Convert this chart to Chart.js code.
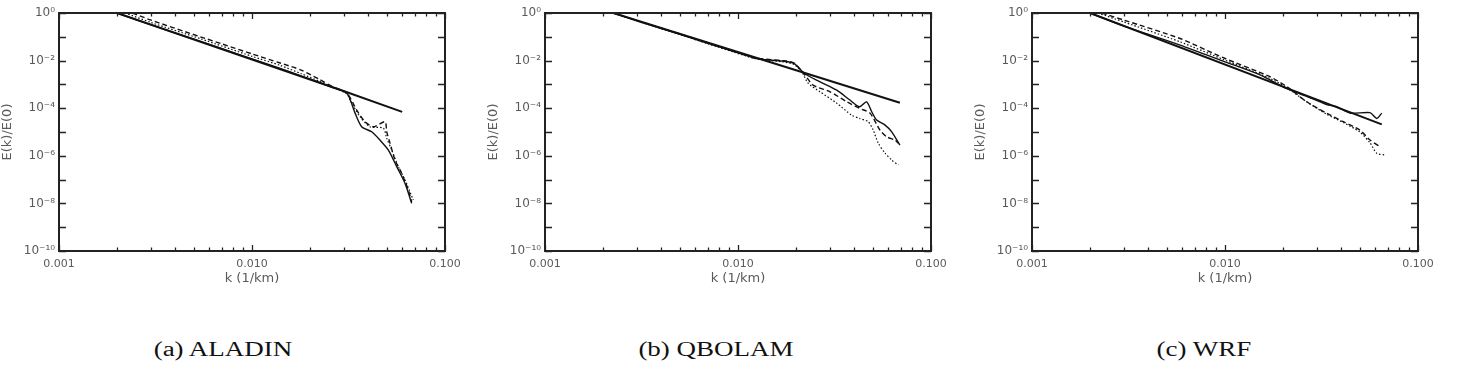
<!DOCTYPE html>
<html>
<head>
<meta charset="utf-8">
<script src="https://cdn.jsdelivr.net/npm/chart.js@4/dist/chart.umd.min.js"></script>
<style>
  html, body { margin:0; padding:0; background:#fff; }
  #wrap { position:relative; width:1459px; height:372px; overflow:hidden; }
  canvas { position:absolute; top:0; }
  .cap { position:absolute; top:338px; font-family:"Liberation Serif","Times New Roman",serif; font-size:20px; line-height:23px; color:#111; transform:translateX(-50%) scaleX(1.35); white-space:nowrap; }
</style>
</head>
<body>
<div id="wrap">
  <canvas id="c1" width="486" height="300" style="left:0px"></canvas>
  <canvas id="c2" width="486" height="300" style="left:486px"></canvas>
  <canvas id="c3" width="486" height="300" style="left:973px"></canvas>
  <div class="cap" id="cap0" style="left:223px"></div>
  <div class="cap" id="cap1" style="left:716px"></div>
  <div class="cap" id="cap2" style="left:1204px"></div>
</div>
<script>
// ---------- tick values and labels ----------
const xTickValues = [0.001, 0.01, 0.1];
const xTickLabels = ['0.001', '0.010', '0.100'];
const xMinorTickValues = [0.002,0.003,0.004,0.005,0.006,0.007,0.008,0.009,0.02,0.03,0.04,0.05,0.06,0.07,0.08,0.09];
const yTickValues = [1, 1e-2, 1e-4, 1e-6, 1e-8, 1e-10];
const yTickLabels = ['10\u2070', '10\u207B\u00B2', '10\u207B\u2074', '10\u207B\u2076', '10\u207B\u2078', '10\u207B\u00B9\u2070'];
const yDecadeTickValues = [1,1e-1,1e-2,1e-3,1e-4,1e-5,1e-6,1e-7,1e-8,1e-9,1e-10];
const captions = ['(a) ALADIN', '(b) QBOLAM', '(c) WRF'];

// ---------- (a) ALADIN ----------
const kAladinRef = [0.002, 0.0303, 0.06];
const eAladinRef = [1, 5e-4, 7e-5];
const kAladinSolid = [0.002,0.003,0.005,0.007,0.01,0.014,0.018,0.022,0.026,0.031,0.0342,0.037,0.0417,0.046,0.0509,0.0562,0.0621,0.0672];
const eAladinSolid = [1,0.316,0.0794,0.0316,0.0117,4.7e-3,2.24e-3,1.26e-3,7.6e-4,4.3e-4,6.2e-5,1.66e-5,1.02e-5,4.6e-6,1.74e-6,3.5e-7,6.9e-8,1.0e-8];
const kAladinDashed = [0.0024,0.003,0.0054,0.007,0.01,0.014,0.018,0.0225,0.026,0.031,0.0349,0.0385,0.0425,0.0489,0.0499,0.0519,0.0551,0.0597,0.0646,0.0672];
const eAladinDashed = [1,0.501,0.1,0.0501,0.0191,7.9e-3,3.98e-3,1.58e-3,8.3e-4,4.3e-4,8.3e-5,2.7e-5,1.66e-5,2.7e-5,1.02e-5,3.4e-6,6.6e-7,1.82e-7,3.6e-8,1.17e-8];
const kAladinDotted = [0.0022,0.003,0.0054,0.01,0.014,0.018,0.0225,0.031,0.0322,0.0363,0.0408,0.0479,0.0499,0.053,0.0573,0.0621,0.0685];
const eAladinDotted = [1,0.398,0.0832,0.0151,6.3e-3,2.8e-3,1.32e-3,3.98e-4,2.2e-4,4.4e-5,1.66e-5,1.45e-5,5.5e-6,1.74e-6,3.5e-7,9.5e-8,1.38e-8];

// ---------- (b) QBOLAM ----------
const kQbolamRef = [0.00226, 0.0222, 0.069];
const eQbolamRef = [1, 3.0e-3, 1.7e-4];
const kQbolamSolid = [0.00226,0.003,0.005,0.007,0.0095,0.012,0.0135,0.017,0.0195,0.0222,0.0266,0.0325,0.038,0.0427,0.0464,0.0493,0.0523,0.0578,0.0626,0.069];
const eQbolamSolid = [1,0.468,0.126,0.0537,0.024,0.0132,0.0112,9.5e-3,7.6e-3,2.8e-3,1.29e-3,5.75e-4,2.2e-4,1.15e-4,1.86e-4,7.1e-5,3.16e-5,1.95e-5,1.02e-5,2.8e-6];
const kQbolamDashed = [0.00226,0.003,0.005,0.007,0.0095,0.012,0.0135,0.017,0.0195,0.0222,0.0245,0.03,0.0366,0.0427,0.0483,0.0544,0.0589,0.065,0.0677];
const eQbolamDashed = [1,0.479,0.132,0.055,0.0251,0.0135,0.0117,0.01,7.9e-3,2.5e-3,9.3e-4,4.9e-4,1.86e-4,9.8e-5,6.2e-5,1.2e-5,6.3e-6,4.6e-6,3.4e-6];
const kQbolamDotted = [0.0023,0.003,0.005,0.007,0.0095,0.012,0.0135,0.017,0.0195,0.0215,0.0231,0.0266,0.0325,0.0388,0.0427,0.0473,0.0502,0.0533,0.0578,0.0626,0.0677];
const eQbolamDotted = [1,0.457,0.126,0.0501,0.0229,0.0126,0.0107,8.9e-3,6.9e-3,3.16e-3,1.12e-3,4.9e-4,1.62e-4,5.1e-5,3.7e-5,2.7e-5,1.2e-5,3.4e-6,1.29e-6,6.6e-7,4.1e-7];

// ---------- (c) WRF ----------
const kWrfRef = [0.002, 0.0649];
const eWrfRef = [1, 2.1e-5];
const kWrfSolid = [0.002,0.003,0.0058,0.01,0.0152,0.0209,0.0265,0.0336,0.0379,0.0444,0.0564,0.0611,0.0649];
const eWrfSolid = [1,0.282,0.0457,8.9e-3,2.5e-3,6.6e-4,3.16e-4,1.41e-4,1.15e-4,6.2e-5,6.5e-5,3.7e-5,6.2e-5];
const kWrfDashed = [0.0023,0.003,0.0058,0.0098,0.0171,0.021,0.0265,0.0336,0.041,0.05,0.0564,0.0635];
const eWrfDashed = [1,0.501,0.087,0.0132,2.1e-3,7.9e-4,1.86e-4,6.2e-5,2.7e-5,1.2e-5,4.6e-6,2.4e-6];
const kWrfDotted = [0.0022,0.003,0.0058,0.0098,0.0171,0.021,0.0265,0.0336,0.041,0.05,0.0564,0.0611,0.0675];
const eWrfDotted = [1,0.417,0.063,0.0112,1.78e-3,7.1e-4,1.86e-4,5.6e-5,2.5e-5,1e-5,3.5e-6,1.29e-6,1.07e-6];

captions.forEach((t, i) => { document.getElementById('cap' + i).textContent = t; });

// ---------- helpers ----------
function pts(ks, es) { return ks.map((k, i) => ({ x: k, y: es[i] })); }

const framePlugin = {
  id: 'frame',
  afterDatasetsDraw(chart) {
    const { ctx, chartArea: a, scales: { x, y } } = chart;
    ctx.save();
    ctx.strokeStyle = '#222';
    ctx.lineWidth = 1.3;
    ctx.beginPath();
    yDecadeTickValues.forEach(v => {
      const py = Math.round(y.getPixelForValue(v)) + 0.5;
      ctx.moveTo(a.left, py); ctx.lineTo(a.left + 7, py);
      ctx.moveTo(a.right, py); ctx.lineTo(a.right - 7, py);
    });
    xTickValues.forEach(v => {
      const px = Math.round(x.getPixelForValue(v)) + 0.5;
      ctx.moveTo(px, a.bottom); ctx.lineTo(px, a.bottom - 6);
      ctx.moveTo(px, a.top); ctx.lineTo(px, a.top + 6);
    });
    xMinorTickValues.forEach(v => {
      const px = Math.round(x.getPixelForValue(v)) + 0.5;
      ctx.moveTo(px, a.bottom); ctx.lineTo(px, a.bottom - 3.5);
      ctx.moveTo(px, a.top); ctx.lineTo(px, a.top + 3.5);
    });
    ctx.stroke();
    ctx.lineWidth = 2;
    ctx.strokeRect(a.left, a.top, a.right - a.left, a.bottom - a.top);
    ctx.restore();
  }
};

const tickFont = { family: '"DejaVu Sans", Arial, sans-serif', size: 11 };
const titleFont = { family: '"DejaVu Sans", Arial, sans-serif', size: 13 };
const textColor = '#5a5a5a';

function makeChart(id, ref, solid, dashed, dotted) {
  const base = { borderColor: '#111', pointRadius: 0, fill: false, tension: 0.25, showLine: true };
  return new Chart(document.getElementById(id), {
    type: 'scatter',
    data: {
      datasets: [
        Object.assign({}, base, { label: 'ref', data: ref, borderWidth: 2, tension: 0 }),
        Object.assign({}, base, { label: 'solid', data: solid, borderWidth: 1.4 }),
        Object.assign({}, base, { label: 'dashed', data: dashed, borderWidth: 1.4, borderDash: [5, 3] }),
        Object.assign({}, base, { label: 'dotted', data: dotted, borderWidth: 1.2, borderDash: [1.5, 2] })
      ]
    },
    options: {
      responsive: false,
      animation: false,
      devicePixelRatio: 1,
      layout: { padding: { top: 13, right: 41, bottom: 0, left: 0 } },
      plugins: { legend: { display: false }, tooltip: { enabled: false } },
      scales: {
        x: {
          type: 'logarithmic', min: 0.001, max: 0.1,
          afterBuildTicks: s => { s.ticks = xTickValues.map(v => ({ value: v })); },
          afterFit: s => { s.height = 49; },
          ticks: { autoSkip: false, maxRotation: 0, padding: 7, font: tickFont, color: textColor,
                   callback: (v, i) => xTickLabels[i] },
          grid: { display: false, drawTicks: false },
          border: { display: false },
          title: { display: true, text: 'k (1/km)', font: titleFont, color: textColor, padding: { top: 0, bottom: 14 } }
        },
        y: {
          type: 'logarithmic', min: 1e-10, max: 1,
          afterBuildTicks: s => { s.ticks = yTickValues.map(v => ({ value: v })); },
          afterFit: s => { s.width = 59; },
          ticks: { autoSkip: false, padding: 4, font: { family: tickFont.family, size: 12 }, color: textColor,
                   callback: (v, i) => yTickLabels[i] },
          grid: { display: false, drawTicks: false },
          border: { display: false },
          title: { display: true, text: 'E(k)/E(0)', font: titleFont, color: textColor, padding: { top: 0, bottom: 0 } }
        }
      }
    },
    plugins: [framePlugin]
  });
}

makeChart('c1', pts(kAladinRef, eAladinRef), pts(kAladinSolid, eAladinSolid), pts(kAladinDashed, eAladinDashed), pts(kAladinDotted, eAladinDotted));
makeChart('c2', pts(kQbolamRef, eQbolamRef), pts(kQbolamSolid, eQbolamSolid), pts(kQbolamDashed, eQbolamDashed), pts(kQbolamDotted, eQbolamDotted));
makeChart('c3', pts(kWrfRef, eWrfRef), pts(kWrfSolid, eWrfSolid), pts(kWrfDashed, eWrfDashed), pts(kWrfDotted, eWrfDotted));
</script>
</body>
</html>
